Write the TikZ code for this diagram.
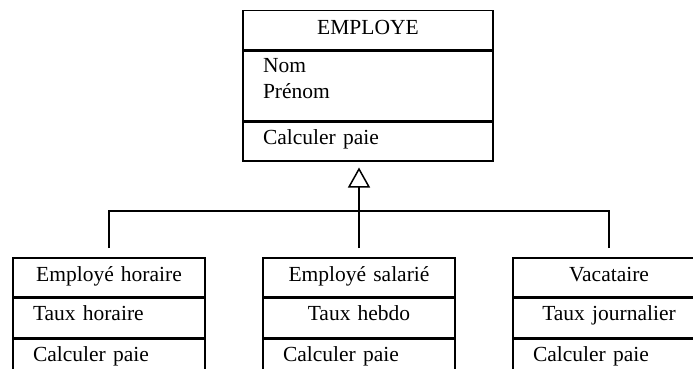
\documentclass[tikz,border=0pt]{standalone}
\usepackage{fontspec}
\setmainfont{Liberation Serif}
\usetikzlibrary{positioning,arrows.meta}

\begin{document}
\begin{tikzpicture}[x=1pt,y=-1pt,line width=1.5pt,
  part/.style={draw,rectangle,inner xsep=20pt,inner ysep=0pt,text height=22.5pt,text depth=16.5pt,font=\fontsize{21.5}{26}\selectfont},
  title/.style={text height=24pt,text depth=15pt},
  big/.style={part,text width=210pt},
  small/.style={part,text width=152pt}]
\useasboundingbox (0,0) rectangle (693,369);
% classe mere
\node[big,title,align=center,anchor=north] (emp) at (368,10) {EMPLOYE};
\node[big,align=left,text height=21pt,text depth=48pt,below=0pt of emp] (emp-attr) {Nom\\Prénom};
\node[big,align=left,below=0pt of emp-attr] (emp-ops) {Calculer paie};
% classes filles
\node[small,title,align=center,anchor=north] (hor) at (109,257) {Employé horaire};
\node[small,align=left,below=0pt of hor] (hor-attr) {Taux horaire};
\node[small,align=left,below=0pt of hor-attr] (hor-ops) {Calculer paie};
\node[small,title,align=center,anchor=north] (sal) at (359,257) {Employé salarié};
\node[small,align=center,below=0pt of sal] (sal-attr) {Taux hebdo};
\node[small,align=left,below=0pt of sal-attr] (sal-ops) {Calculer paie};
\node[small,title,align=center,anchor=north] (vac) at (609,257) {Vacataire};
\node[small,align=center,below=0pt of vac] (vac-attr) {Taux journalier};
\node[small,align=left,below=0pt of vac-attr] (vac-ops) {Calculer paie};
% heritage
\coordinate (bus) at (359,211);
\draw[shorten <=9pt] (hor.north) |- (bus);
\draw[shorten <=9pt] (vac.north) |- (bus);
\draw[shorten <=9pt] (sal.north) -- (bus);
\draw[-{Triangle[open,length=20pt,width=22pt]},shorten >=6pt] (bus) -- (bus |- emp-ops.south);
\end{tikzpicture}
\end{document}
